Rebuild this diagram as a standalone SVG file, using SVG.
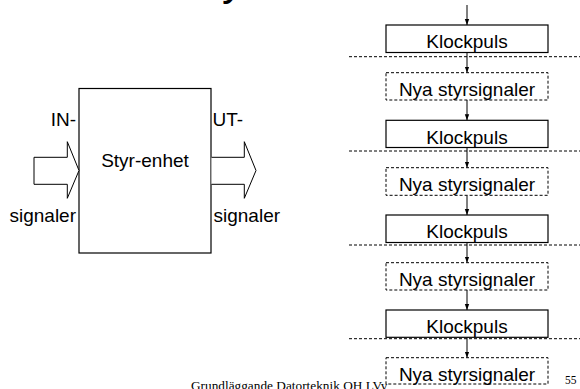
<svg xmlns="http://www.w3.org/2000/svg" width="580" height="389" viewBox="0 0 580 389">
  <style>
    .lbl { font-family: "Liberation Sans", Arial, sans-serif; font-size: 19px; fill: #000; }
    .foot { font-family: "Liberation Serif", "Times New Roman", serif; fill: #000; }
    .box { fill: #fff; stroke: #000; stroke-width: 1.2; }
    .dbox { fill: #fff; stroke: #000; stroke-width: 1; stroke-dasharray: 3 2; }
    .sep { stroke: #000; stroke-width: 1; stroke-dasharray: 3 2; fill: none; }
    .wire { stroke: #000; stroke-width: 1; fill: none; marker-end: url(#tip); }
    .big { fill: #fff; stroke: #000; stroke-width: 1; }
  </style>
  <defs>
    <marker id="tip" viewBox="0 0 6 6" refX="6" refY="3" markerWidth="6" markerHeight="6" markerUnits="userSpaceOnUse" orient="auto">
      <path d="M0,0.8 L6,3 L0,5.2 z" fill="#000"/>
    </marker>
  </defs>
  <rect width="580" height="389" fill="#fff"/>

  <!-- tail of the heading glyph above the top edge -->
  <text x="222" y="-5" class="lbl" style="font-size:44px">y</text>

  <!-- control unit with its in/out signal arrows -->
  <g id="styrenhet">
    <rect x="79" y="88.5" width="132" height="164.5" class="box"/>
    <text x="145" y="166.7" class="lbl" text-anchor="middle">Styr-enhet</text>
  </g>
  <g id="in-signaler">
    <polygon points="34,157.3 67.3,157.3 67.3,141.7 79,170.5 67.3,198.3 67.3,184.3 34,184.3" class="big"/>
    <text x="76" y="125.7" class="lbl" text-anchor="end">IN-</text>
    <text x="76" y="221.7" class="lbl" text-anchor="end">signaler</text>
  </g>
  <g id="ut-signaler">
    <polyline points="211.5,157.3 244.3,157.3 244.3,141.7 256,170.5 244.3,198.3 244.3,184.3 211.5,184.3" class="big"/>
    <text x="212.5" y="125.7" class="lbl">UT-</text>
    <text x="213.5" y="221.7" class="lbl">signaler</text>
  </g>

  <!-- clock period separators -->
  <g id="separators">
    <line x1="349" y1="56.7" x2="580" y2="56.7" class="sep"/>
    <line x1="349" y1="151" x2="580" y2="151" class="sep"/>
    <line x1="349" y1="245" x2="580" y2="245" class="sep"/>
    <line x1="349" y1="338.7" x2="580" y2="338.7" class="sep"/>
  </g>

  <!-- footer (its tail runs under the last box) -->
  <text x="191" y="390" class="foot" font-size="13.3">Grundläggande Datorteknik OH LVy</text>
  <text x="565" y="383.5" class="foot" font-size="11.5">55</text>

  <!-- sequence connectors -->
  <g id="connectors">
    <line x1="467" y1="5" x2="467" y2="25" class="wire"/>
    <line x1="467" y1="52.5" x2="467" y2="72.7" class="wire"/>
    <line x1="467" y1="100" x2="467" y2="120.3" class="wire"/>
    <line x1="467" y1="147.5" x2="467" y2="167.7" class="wire"/>
    <line x1="467" y1="195.3" x2="467" y2="215" class="wire"/>
    <line x1="467" y1="242.5" x2="467" y2="262.7" class="wire"/>
    <line x1="467" y1="290" x2="467" y2="310" class="wire"/>
    <line x1="467" y1="337.5" x2="467" y2="357.7" class="wire"/>
  </g>

  <!-- clock pulses and new control signals -->
  <g id="klockpuls1">
    <rect x="386" y="25" width="162" height="27.5" class="box"/>
    <text x="467" y="48.3" class="lbl" text-anchor="middle">Klockpuls</text>
  </g>
  <g id="nya1">
    <rect x="386" y="72.7" width="162" height="27.3" class="dbox"/>
    <text x="467" y="95.7" class="lbl" text-anchor="middle">Nya styrsignaler</text>
  </g>
  <g id="klockpuls2">
    <rect x="386" y="120.3" width="162" height="27.2" class="box"/>
    <text x="467" y="143.5" class="lbl" text-anchor="middle">Klockpuls</text>
  </g>
  <g id="nya2">
    <rect x="386" y="167.7" width="162" height="27.6" class="dbox"/>
    <text x="467" y="190.7" class="lbl" text-anchor="middle">Nya styrsignaler</text>
  </g>
  <g id="klockpuls3">
    <rect x="386" y="215" width="162" height="27.5" class="box"/>
    <text x="467" y="238.3" class="lbl" text-anchor="middle">Klockpuls</text>
  </g>
  <g id="nya3">
    <rect x="386" y="262.7" width="162" height="27.3" class="dbox"/>
    <text x="467" y="285.7" class="lbl" text-anchor="middle">Nya styrsignaler</text>
  </g>
  <g id="klockpuls4">
    <rect x="386" y="310" width="162" height="27.3" class="box"/>
    <text x="467" y="333.3" class="lbl" text-anchor="middle">Klockpuls</text>
  </g>
  <g id="nya4">
    <rect x="386" y="357.7" width="162" height="26.3" class="dbox"/>
    <text x="467" y="380.7" class="lbl" text-anchor="middle">Nya styrsignaler</text>
  </g>
</svg>
